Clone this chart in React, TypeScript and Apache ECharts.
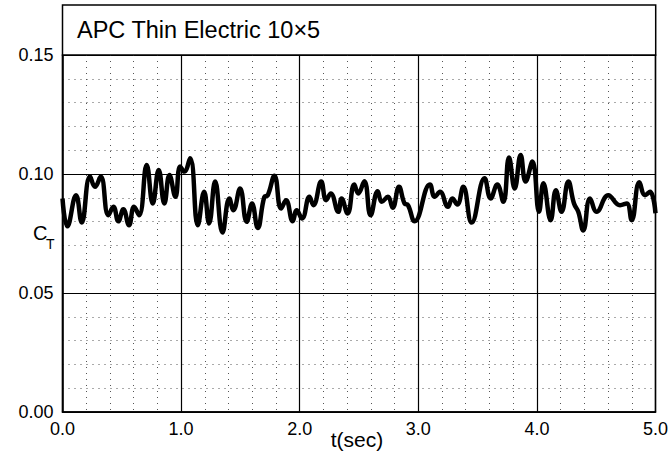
import React, { useEffect, useRef } from "react";
import * as echarts from "echarts";

const titleText = "APC Thin Electric 10×5";
const xAxisName = "t(sec)";
const yAxisMain = "C";
const yAxisSub = "T";

const timeSec = [
  0.0, 0.041, 0.114, 0.162, 0.232, 0.274, 0.322, 0.387, 0.429, 0.471, 0.513, 0.561, 0.603, 0.646,
  0.71, 0.761, 0.811, 0.859, 0.902, 0.952, 0.992, 1.027, 1.076, 1.141, 1.194, 1.236, 1.287, 1.349,
  1.407, 1.441, 1.497, 1.553, 1.598, 1.646, 1.702, 1.731, 1.787, 1.843, 1.885, 1.941, 1.975, 2.02,
  2.082, 2.116, 2.181, 2.223, 2.262, 2.325, 2.353, 2.404, 2.46, 2.494, 2.545, 2.598, 2.658, 2.692,
  2.744, 2.784, 2.837, 2.884, 2.913, 2.969, 3.098, 3.138, 3.183, 3.25, 3.287, 3.329, 3.379, 3.45,
  3.559, 3.61, 3.666, 3.717, 3.765, 3.813, 3.863, 3.905, 3.962, 4.018, 4.055, 4.116, 4.16, 4.208,
  4.265, 4.313, 4.349, 4.391, 4.448, 4.504, 4.602, 4.701, 4.757, 4.799, 4.864, 4.912, 4.954, 5.0,
];

const ctValues = [
  0.0897, 0.078, 0.0911, 0.0796, 0.0989, 0.0946, 0.0989, 0.0827, 0.0862, 0.0801, 0.0852, 0.0785, 0.0862, 0.0827,
  0.1038, 0.0876, 0.1017, 0.0876, 0.0996, 0.0904, 0.1031, 0.101, 0.1066, 0.0785, 0.0925, 0.0792, 0.0968, 0.0754,
  0.0897, 0.0848, 0.0939, 0.0799, 0.0876, 0.0773, 0.0904, 0.0911, 0.0993, 0.0855, 0.089, 0.0801, 0.0848, 0.0813,
  0.0904, 0.0869, 0.0968, 0.089, 0.0918, 0.0841, 0.0897, 0.0834, 0.0956, 0.0918, 0.097, 0.0827, 0.0928, 0.0883,
  0.0904, 0.0858, 0.0946, 0.0876, 0.0869, 0.0801, 0.0956, 0.0904, 0.0925, 0.0862, 0.0897, 0.0872, 0.0946, 0.0796,
  0.0982, 0.0897, 0.0956, 0.0883, 0.1069, 0.0939, 0.108, 0.0968, 0.1052, 0.0841, 0.0961, 0.0806, 0.0932, 0.0841,
  0.0968, 0.0876, 0.0841, 0.0763, 0.0897, 0.0841, 0.0911, 0.0869, 0.0876, 0.0806, 0.0965, 0.0911, 0.0925, 0.0835,
];

const xMin = 0;
const xMax = 5;
const xStep = 1;
const yMin = 0;
const yMax = 0.15;
const yStep = 0.05;

const FONT = "'Liberation Sans', Arial, Helvetica, sans-serif";

export default function App() {
  const ref = useRef<HTMLDivElement>(null);

  useEffect(() => {
    if (!ref.current) return;
    const chart = echarts.init(ref.current, null, { renderer: "svg" });
    const data = timeSec.map((t, i) => [t, ctValues[i]]);
    chart.setOption({
      animation: false,
      backgroundColor: "#fff",
      grid: {
        left: 62.5,
        right: 15.3,
        top: 55,
        bottom: 49,
        show: true,
        borderColor: "#000",
        borderWidth: 1.5,
        backgroundColor: "transparent",
      },
      xAxis: {
        type: "value",
        min: xMin,
        max: xMax,
        interval: xStep,
        axisLine: { show: true, lineStyle: { color: "#000", width: 1.5 } },
        axisTick: { show: false },
        axisLabel: {
          margin: 8,
          fontSize: 18,
          color: "#000",
          fontFamily: FONT,
          formatter: (v: number) => v.toFixed(1),
        },
        splitLine: { show: true, lineStyle: { color: "#000", width: 1.2 } },
        minorTick: { show: false, splitNumber: 5 },
        minorSplitLine: { show: true, lineStyle: { color: "#555", width: 1, type: [1, 5] } },
      },
      yAxis: {
        type: "value",
        min: yMin,
        max: yMax,
        interval: yStep,
        axisLine: { show: true, lineStyle: { color: "#000", width: 1.5 } },
        axisTick: { show: false },
        axisLabel: {
          margin: 9,
          fontSize: 18,
          color: "#000",
          fontFamily: FONT,
          formatter: (v: number) => v.toFixed(2),
        },
        splitLine: { show: true, lineStyle: { color: "#000", width: 1.2 } },
        minorTick: { show: false, splitNumber: 5 },
        minorSplitLine: { show: true, lineStyle: { color: "#555", width: 1, type: [1, 5] } },
      },
      graphic: [
        {
          type: "rect",
          shape: { x: 62.5, y: 5, width: 593.2, height: 50 },
          style: { fill: "#fff", stroke: "#000", lineWidth: 1.5 },
          z: 100,
        },
        {
          type: "text",
          x: 77,
          y: 30,
          style: {
            text: titleText,
            font: `23.5px ${FONT}`,
            fill: "#000",
            verticalAlign: "middle",
            align: "left",
          },
          z: 101,
        },
        {
          type: "text",
          x: 357,
          y: 439,
          style: {
            text: xAxisName,
            font: `21px ${FONT}`,
            fill: "#000",
            verticalAlign: "middle",
            align: "center",
          },
          z: 101,
        },
        {
          type: "text",
          x: 33,
          y: 233,
          style: { text: yAxisMain, font: `20px ${FONT}`, fill: "#000", verticalAlign: "middle", align: "left" },
          z: 101,
        },
        {
          type: "text",
          x: 46,
          y: 244,
          style: { text: yAxisSub, font: `14px ${FONT}`, fill: "#000", verticalAlign: "middle", align: "left" },
          z: 101,
        },
      ],
      series: [
        {
          type: "line",
          data,
          smooth: 0.45,
          showSymbol: false,
          clip: true,
          lineStyle: { color: "#000", width: 4.5 },
          z: 10,
        },
      ],
    });
    return () => chart.dispose();
  }, []);

  return (
    <div
      ref={ref}
      style={{ position: "fixed", left: 0, top: 0, width: 671, height: 461 }}
    />
  );
}
